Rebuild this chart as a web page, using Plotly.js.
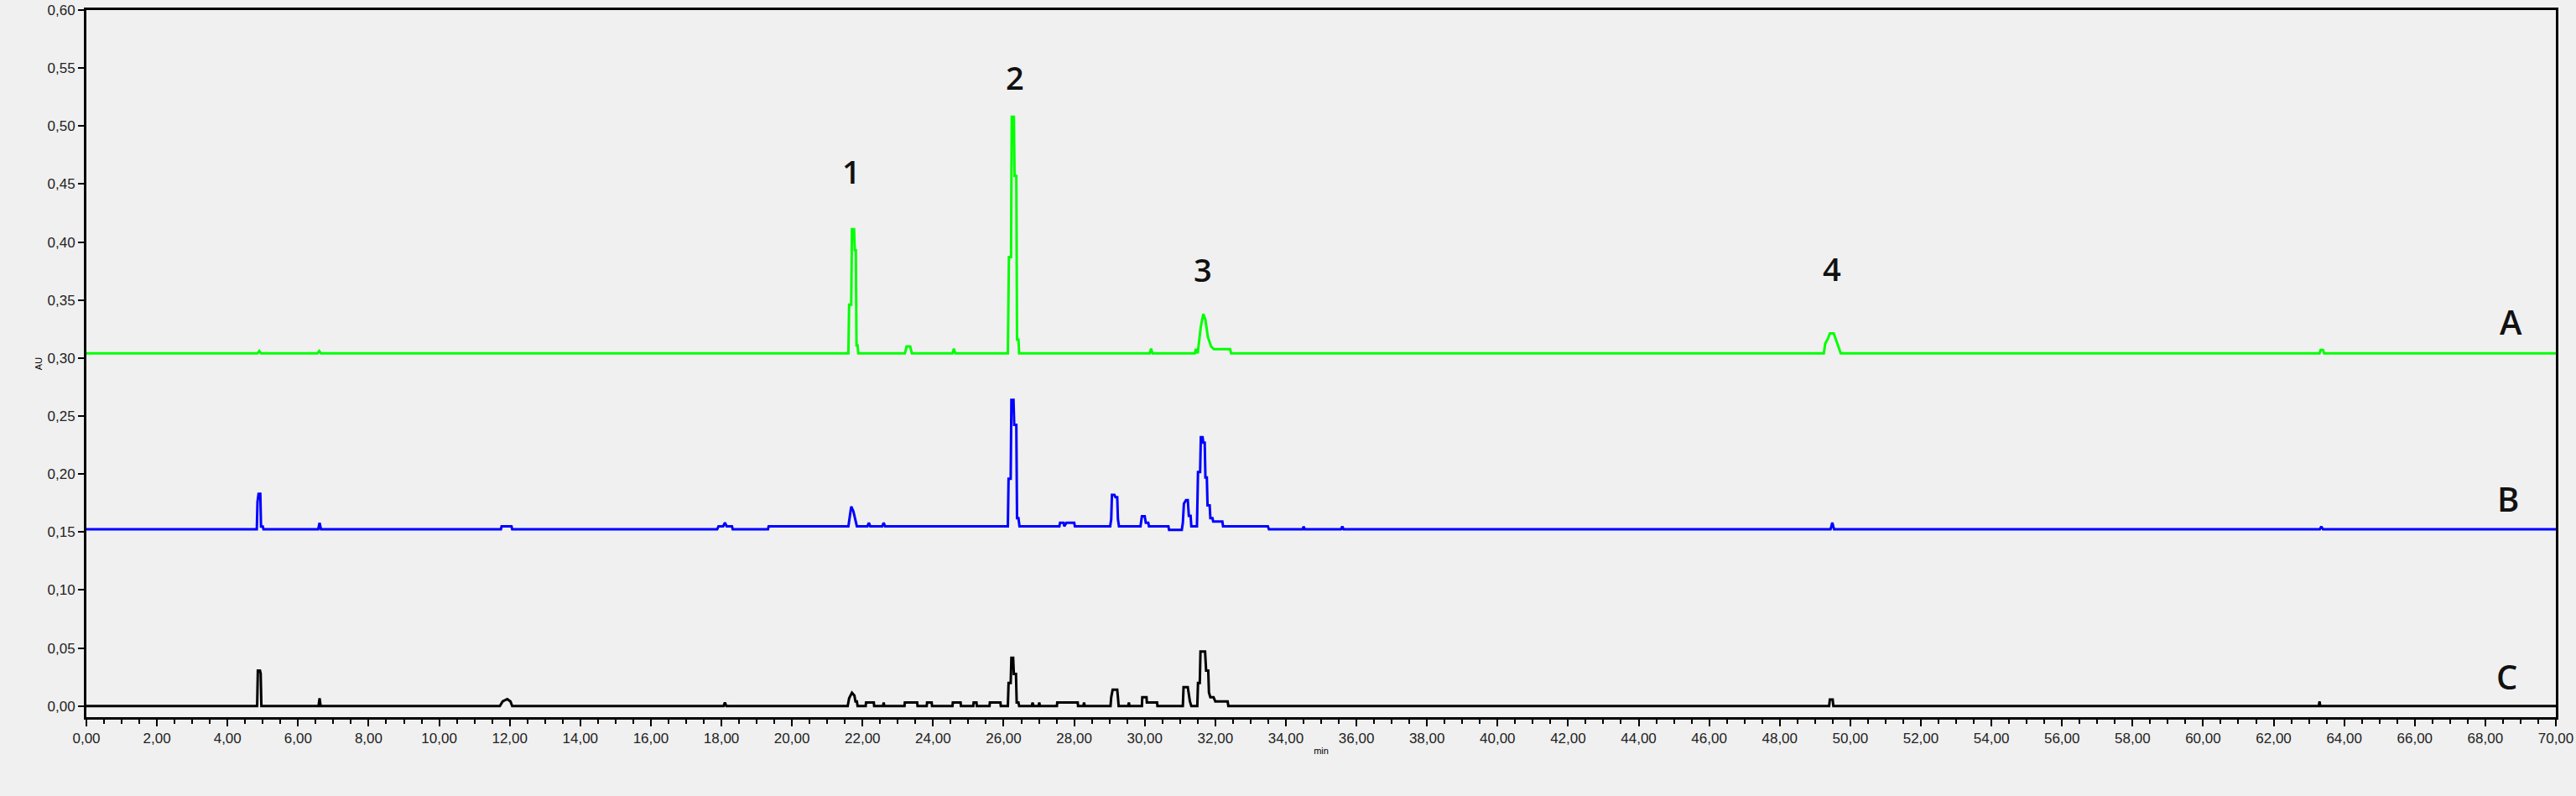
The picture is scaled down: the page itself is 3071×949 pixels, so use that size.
<!DOCTYPE html>
<html>
<head>
<meta charset="utf-8">
<script src="https://cdn.plot.ly/plotly-3.0.1.min.js"></script>
<style>
  html, body { margin: 0; padding: 0; background: #f0f0f0; }
  #chart { width: 3071px; height: 949px; }
</style>
</head>
<body>
<div id="chart"></div>
<script>
// ---- Data (time in min, absorbance in AU) ----
var timeA = [0, 4.85, 4.9, 4.95, 6.55, 6.6, 6.65,
  21.60, 21.62, 21.68, 21.70, 21.76, 21.78, 21.81, 21.83, 21.86, 21.88,
  23.20, 23.25, 23.35, 23.40, 24.55, 24.59, 24.63,
  26.12, 26.15, 26.21, 26.23, 26.29, 26.31, 26.36, 26.38, 26.42, 26.44,
  30.14, 30.18, 30.22,
  31.42, 31.45, 31.50, 31.59, 31.66, 31.72, 31.79, 31.88, 31.96, 32.42, 32.45,
  49.25, 49.29, 49.37, 49.42, 49.53, 49.60, 49.65, 49.73,
  63.30, 63.33, 63.40, 63.43, 70];
var valA = [0.304, 0.304, 0.306, 0.304, 0.304, 0.306, 0.304,
  0.304, 0.346, 0.346, 0.411, 0.411, 0.393, 0.393, 0.311, 0.311, 0.304,
  0.304, 0.310, 0.310, 0.304, 0.304, 0.308, 0.304,
  0.304, 0.387, 0.387, 0.508, 0.508, 0.457, 0.457, 0.316, 0.316, 0.304,
  0.304, 0.308, 0.304,
  0.304, 0.308, 0.304, 0.327, 0.338, 0.333, 0.318, 0.310, 0.3076, 0.3076, 0.304,
  0.304, 0.3126, 0.317, 0.3213, 0.3213, 0.315, 0.310, 0.304,
  0.304, 0.307, 0.307, 0.304, 0.304];

var timeB = [0, 4.83, 4.85, 4.88, 4.93, 4.95, 5.0, 5.02, 6.57, 6.61, 6.65,
  11.75, 11.77, 12.05, 12.07, 17.88, 17.92, 18.05, 18.1, 18.15, 18.3, 18.32, 19.32, 19.34,
  21.60, 21.63, 21.68, 21.74, 21.80, 21.84, 22.14, 22.18, 22.22, 22.56, 22.6, 22.64,
  26.12, 26.14, 26.20, 26.22, 26.28, 26.30, 26.36, 26.38, 26.42, 26.45,
  27.58, 27.6, 27.7, 27.72, 27.78, 28.0, 28.02,
  29.02, 29.05, 29.07, 29.14, 29.17, 29.22, 29.24, 29.27,
  29.88, 29.92, 30.0, 30.03, 30.1, 30.12, 30.67, 30.69, 31.05,
  31.08, 31.11, 31.17, 31.22, 31.25, 31.30, 31.32,
  31.48, 31.51, 31.57, 31.59, 31.64, 31.66, 31.70, 31.72, 31.76, 31.78, 31.84, 31.86, 31.92, 31.94, 32.20, 32.22,
  33.49, 33.52, 34.48, 34.5, 34.54, 35.56, 35.6, 35.64,
  49.44, 49.49, 49.54, 63.31, 63.35, 63.40, 70];
var valB = [0.1523, 0.1523, 0.176, 0.183, 0.183, 0.1547, 0.1547, 0.1523, 0.1523, 0.158, 0.1523,
  0.1523, 0.155, 0.155, 0.1523, 0.1523, 0.155, 0.155, 0.158, 0.155, 0.155, 0.1523, 0.1523, 0.155,
  0.155, 0.161, 0.172, 0.168, 0.161, 0.155, 0.155, 0.158, 0.155, 0.155, 0.158, 0.155,
  0.155, 0.196, 0.196, 0.264, 0.264, 0.2425, 0.2425, 0.162, 0.162, 0.155,
  0.155, 0.158, 0.158, 0.155, 0.158, 0.158, 0.155,
  0.155, 0.161, 0.182, 0.182, 0.180, 0.180, 0.161, 0.155,
  0.155, 0.1636, 0.1636, 0.158, 0.158, 0.155, 0.155, 0.1518, 0.1518,
  0.158, 0.1745, 0.1776, 0.1776, 0.164, 0.164, 0.155,
  0.155, 0.2017, 0.2017, 0.2318, 0.2318, 0.227, 0.227, 0.197, 0.197, 0.173, 0.173, 0.162, 0.162, 0.159, 0.159, 0.155,
  0.155, 0.1523, 0.1523, 0.1547, 0.1523, 0.1523, 0.1547, 0.1523,
  0.1523, 0.158, 0.1523, 0.1523, 0.1547, 0.1523, 0.1523];

var timeC = [0, 4.84, 4.86, 4.92, 4.94, 4.96, 6.58, 6.61, 6.64,
  11.72, 11.80, 11.93, 12.02, 12.07, 18.06, 18.1, 18.14,
  21.58, 21.62, 21.70, 21.77, 21.80, 21.84, 21.86,
  22.09, 22.10, 22.32, 22.33, 22.58, 22.60, 22.62,
  23.19, 23.20, 23.55, 23.56, 23.82, 23.83, 23.96, 23.97,
  24.55, 24.56, 24.78, 24.79, 25.14, 25.15, 25.23, 25.24, 25.60, 25.61, 25.91, 25.92,
  26.12, 26.14, 26.20, 26.22, 26.27, 26.29, 26.35, 26.37, 26.42, 26.44,
  26.80, 26.82, 26.85, 26.99, 27.01, 27.03, 27.51, 27.52, 28.10, 28.11, 28.26, 28.28, 28.30,
  29.03, 29.05, 29.09, 29.22, 29.24, 29.26,
  29.53, 29.55, 29.57, 29.92, 29.93, 30.05, 30.06, 30.35, 30.36,
  31.08, 31.10, 31.22, 31.28, 31.32,
  31.49, 31.51, 31.56, 31.58, 31.71, 31.74, 31.80, 31.82, 31.86, 31.95, 32.00, 32.35, 32.37,
  49.40, 49.42, 49.50, 49.52, 63.28, 63.30, 63.32, 70];
var valC = [0, 0, 0.0306, 0.0306, 0.028, 0, 0, 0.0067, 0,
  0, 0.004, 0.006, 0.004, 0, 0, 0.003, 0,
  0, 0.0067, 0.0115, 0.009, 0.004, 0.004, 0,
  0, 0.003, 0.003, 0, 0, 0.003, 0,
  0, 0.003, 0.003, 0, 0, 0.003, 0.003, 0,
  0, 0.003, 0.003, 0, 0, 0.003, 0.003, 0, 0, 0.003, 0.003, 0,
  0, 0.0198, 0.0198, 0.0415, 0.0415, 0.0277, 0.0277, 0.003, 0.003, 0,
  0, 0.003, 0, 0, 0.003, 0, 0, 0.003, 0.003, 0, 0, 0.003, 0,
  0, 0.0076, 0.014, 0.014, 0.0076, 0,
  0, 0.003, 0, 0, 0.0076, 0.0076, 0.003, 0.003, 0,
  0, 0.0162, 0.0162, 0.004, 0,
  0, 0.0198, 0.0198, 0.0469, 0.0469, 0.0306, 0.0306, 0.0115, 0.0076, 0.0076, 0.004, 0.004, 0,
  0, 0.0055, 0.0055, 0, 0, 0.004, 0, 0];

// peak numbers and trace letters
var peakNames = ["1", "2", "3", "4"];
var peakTimes = [21.68, 26.31, 31.65, 49.47];
var peakLabelY = [0.461, 0.542, 0.3765, 0.3775];
var traceNames = ["A", "B", "C"];
var traceLabelTime = [68.72, 68.64, 68.62];
var traceLabelY = [0.3316, 0.179, 0.0252];
var traceColors = ["#00ff00", "#0000ff", "#000000"];

var xTicks = [];
for (var t = 0; t <= 70; t += 2) xTicks.push(t);
var yTicks = [];
for (var k = 0; k <= 12; k++) yTicks.push(+(k * 0.05).toFixed(2));

var seriesX = [timeA, timeB, timeC];
var seriesY = [valA, valB, valC];
var traces = seriesX.map(function (xs, i) {
  return {
    type: "scatter", mode: "lines", name: traceNames[i],
    x: xs, y: seriesY[i],
    line: { color: traceColors[i], width: 3, shape: "linear" },
    hoverinfo: "x+y"
  };
});

var annotations = [];
peakNames.forEach(function (n, i) {
  annotations.push({
    x: peakTimes[i], y: peakLabelY[i], xref: "x", yref: "y",
    text: n, showarrow: false,
    font: { family: "Open Sans, Liberation Sans, sans-serif", size: 38, color: "#111", weight: 600 },
    xanchor: "center", yanchor: "middle"
  });
});
traceNames.forEach(function (n, i) {
  annotations.push({
    x: traceLabelTime[i], y: traceLabelY[i], xref: "x", yref: "y",
    text: n, showarrow: false,
    font: { family: "Open Sans, Liberation Sans, sans-serif", size: 40, color: "#111", weight: 600 },
    xanchor: "center", yanchor: "middle"
  });
});

var tickFont = { family: "Liberation Sans, Arial, sans-serif", size: 17, color: "#222" };

var layout = {
  width: 3071, height: 949,
  paper_bgcolor: "#f0f0f0", plot_bgcolor: "#f0f0f0",
  separators: ",.",
  showlegend: false,
  margin: { l: 103, r: 24, t: 12, b: 94, pad: 0 },
  xaxis: {
    range: [0, 70], autorange: false,
    tickmode: "array", tickvals: xTicks, tickformat: ".2f",
    ticks: "outside", ticklen: 8, tickwidth: 2, tickcolor: "#000",
    minor: { dtick: 0.5, tick0: 0, ticks: "outside", ticklen: 5, tickwidth: 2, tickcolor: "#000", showgrid: false },
    showline: true, linecolor: "#000", linewidth: 3, mirror: true,
    showgrid: false, zeroline: false,
    tickfont: tickFont,
    title: { text: "min", font: { family: "Liberation Sans, Arial, sans-serif", size: 11, color: "#000" }, standoff: 2 }
  },
  yaxis: {
    range: [-0.0096, 0.6], autorange: false,
    tickmode: "array", tickvals: yTicks, tickformat: ".2f",
    ticks: "outside", ticklen: 7, tickwidth: 2, tickcolor: "#000",
    showline: true, linecolor: "#000", linewidth: 3, mirror: true,
    showgrid: false, zeroline: false,
    tickfont: tickFont,
    title: { text: "AU", font: { family: "Liberation Sans, Arial, sans-serif", size: 11, color: "#000" }, standoff: 4 }
  },
  annotations: annotations
};

Plotly.newPlot("chart", traces, layout, { staticPlot: true, displayModeBar: false });
</script>
</body>
</html>
